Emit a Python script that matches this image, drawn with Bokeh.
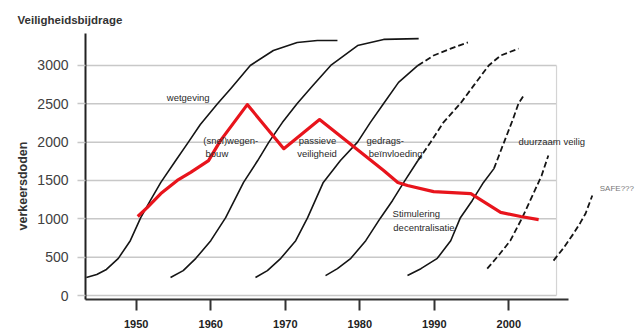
from bokeh.plotting import figure
from bokeh.models import Range1d, FixedTicker, Label, ColumnDataSource, Title
from bokeh.embed import file_html
from bokeh.resources import INLINE
from bokeh.core.properties import value

# ---------------- data ----------------
y_ticks = [0, 500, 1000, 1500, 2000, 2500, 3000]
x_ticks = [1950, 1960, 1970, 1980, 1990, 2000]
x_tick_labels = ["1950", "1960", "1970", "1980", "1990", "2000"]

# verkeersdoden (red line)
red_year = [1950.2, 1951.5, 1953.3, 1955.5, 1957.3, 1959.7, 1961.3, 1964.9, 1969.8,
            1974.6, 1983.2, 1985.1, 1986.4, 1989.9, 1994.9, 1998.9, 2001.6, 2004.0]
red_val = [1030, 1150, 1330, 1500, 1605, 1760, 2020, 2490, 1915,
           2295, 1630, 1475, 1435, 1355, 1330, 1085, 1030, 990]

# S-curves (solid parts)
c1_year = [1943.3, 1944.7, 1946.0, 1947.6, 1949.2, 1950.6, 1951.9, 1953.3, 1955.3,
           1957.0, 1958.6, 1960.9, 1962.7, 1965.3, 1968.4, 1971.6, 1974.3, 1977.0]
c1_val = [235, 275, 340, 485, 715, 1015, 1240, 1475, 1760,
          2000, 2230, 2500, 2700, 3000, 3195, 3300, 3325, 3325]

c2_year = [1954.6, 1956.3, 1958.0, 1960.0, 1962.0, 1964.4, 1966.3, 1967.8,
           1969.6, 1971.6, 1973.7, 1976.1, 1979.7, 1983.2, 1987.9]
c2_val = [235, 325, 485, 715, 1015, 1475, 1760, 2000,
          2255, 2505, 2740, 3000, 3260, 3340, 3350]

c3_year = [1966.0, 1967.6, 1969.4, 1971.4, 1973.0, 1975.1, 1977.4, 1979.7,
           1981.4, 1983.2, 1985.2, 1987.8]
c3_val = [235, 325, 485, 715, 1015, 1475, 1760, 2000, 2255, 2505, 2780, 3000]

c4_year = [1975.4, 1977.0, 1978.8, 1980.8, 1982.8, 1984.4, 1985.9, 1987.8]
c4_val = [260, 350, 485, 715, 1015, 1240, 1475, 1760]

c5_year = [1986.4, 1988.2, 1990.4, 1992.2, 1993.5, 1995.1, 1996.6, 1998.0]
c5_val = [260, 350, 485, 715, 1015, 1240, 1475, 1655]

# S-curves (dashed parts)
c3d_year = [1987.8, 1989.9, 1992.2, 1994.5]
c3d_val = [3000, 3130, 3220, 3300]

c4d_year = [1987.8, 1989.5, 1991.2, 1993.5, 1995.3, 1997.3, 1998.9, 2001.3]
c4d_val = [1760, 2000, 2255, 2505, 2740, 3000, 3130, 3220]

c5d_year = [1998.0, 1999.3, 2000.5, 2001.3, 2002.0]
c5d_val = [1655, 1985, 2285, 2505, 2610]

c6d_year = [1997.1, 1998.6, 2000.2, 2001.8, 2003.3, 2004.4, 2005.3]
c6d_val = [350, 520, 715, 1015, 1330, 1565, 1825]

c7d_year = [2006.0, 2007.3, 2008.7, 2009.6, 2010.3, 2010.8, 2011.2]
c7d_val = [455, 615, 810, 950, 1070, 1200, 1305]

# annotations
ann_text = ["wetgeving", "(snel)wegen-", "bouw", "passieve", "veiligheid",
            "gedrags-", "beïnvloeding", "Stimulering", "decentralisatie",
            "duurzaam veilig"]
ann_year = [1954.1, 1959.0, 1959.3, 1971.8, 1971.6, 1980.9, 1981.2,
            1984.4, 1984.5, 2001.3]
ann_val = [2582, 2022, 1852, 2022, 1852, 2022, 1852, 1070, 887, 2009]

# ---------------- figure ----------------
X0, X1 = 1943.19, 2017.4
Y0, Y1 = -52, 3417
GRID_END = 2006.4

p = figure(width=638, height=335, output_backend="svg", toolbar_location=None,
           x_range=Range1d(X0, X1), y_range=Range1d(Y0, Y1),
           min_border_left=85, min_border_right=0,
           min_border_top=33, min_border_bottom=36)
p.outline_line_color = None
p.xgrid.visible = False
p.ygrid.visible = False
p.background_fill_color = "white"
p.border_fill_color = "white"

# title (top-left)
p.title.text = "Veiligheidsbijdrage"
p.title.align = "left"
p.title.offset = -68
p.title.standoff = 15
p.title.text_font = "Liberation Sans"
p.title.text_font_style = "bold"
p.title.text_font_size = "11.5px"
p.title.text_color = "#333333"

# grid lines (limited extent)
p.segment(x0=[X0] * len(y_ticks), x1=[GRID_END] * len(y_ticks),
          y0=y_ticks, y1=y_ticks, line_color="#c8c8c8", line_width=1.5)
p.segment(x0=[GRID_END], x1=[GRID_END], y0=[y_ticks[0]], y1=[y_ticks[-1]],
          line_color="#d4d4d4", line_width=1.2)

# curves
for xs, ys in [(c1_year, c1_val), (c2_year, c2_val), (c3_year, c3_val),
               (c4_year, c4_val), (c5_year, c5_val)]:
    p.line(xs, ys, line_color="#151515", line_width=1.6, line_join="round")
for xs, ys in [(c3d_year, c3d_val), (c4d_year, c4d_val), (c5d_year, c5d_val),
               (c6d_year, c6d_val), (c7d_year, c7d_val)]:
    p.line(xs, ys, line_color="#151515", line_width=1.8, line_dash="6 3")

p.line(red_year, red_val, line_color="#e8141c", line_width=3.2, line_join="round")

src = ColumnDataSource(dict(x=ann_year, y=ann_val, t=ann_text))
p.text(x="x", y="y", text="t", source=src, text_font=value("Liberation Sans"),
       text_font_size="9.5px", text_color="#2a2a2a", text_align="left",
       text_baseline="middle")

p.add_layout(Label(x=2012.2, y=1396, text="SAFE???", text_font="Liberation Sans",
                   text_font_size="8px", text_color="#777777",
                   text_align="left", text_baseline="middle"))

# axes
xa = p.xaxis[0]
xa.ticker = FixedTicker(ticks=x_ticks)
xa.major_label_overrides = {t: l for t, l in zip(x_ticks, x_tick_labels)}
xa.bounds = (1943.0, 2008.0)
xa.axis_line_color = "#333333"
xa.axis_line_width = 2
xa.major_tick_line_color = "#333333"
xa.major_tick_line_width = 2
xa.major_tick_out = 11
xa.major_tick_in = 0
xa.minor_tick_line_color = None
xa.major_label_standoff = 9
xa.major_label_text_font = "Liberation Sans"
xa.major_label_text_font_style = "bold"
xa.major_label_text_font_size = "11px"
xa.major_label_text_color = "#222222"

ya = p.yaxis[0]
ya.ticker = FixedTicker(ticks=y_ticks)
ya.axis_line_color = "#222222"
ya.axis_line_width = 2
ya.major_tick_line_color = "#c8c8c8"
ya.major_tick_line_width = 1.5
ya.major_tick_out = 8
ya.major_tick_in = 0
ya.minor_tick_line_color = None
ya.major_label_standoff = 9
ya.major_label_text_font = "Liberation Sans"
ya.major_label_text_font_size = "14px"
ya.major_label_text_color = "#404040"

p.add_layout(Title(text="verkeersdoden", align="left", offset=69,
                   text_font="Liberation Sans", text_font_style="bold",
                   text_font_size="12.5px", text_color="#333333"), "left")

open("out.html", "w").write(file_html(p, INLINE))
